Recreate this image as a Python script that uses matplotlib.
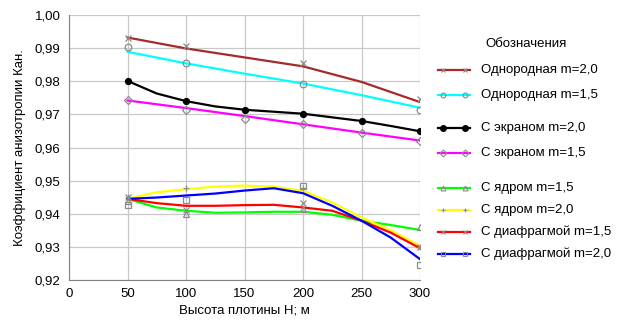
import numpy as np
import matplotlib.pyplot as plt
from matplotlib.lines import Line2D

plt.rcParams['font.family'] = ['Liberation Sans', 'DejaVu Sans']

# upper group, lines read at 50..300 step 50
h6 = [50, 100, 150, 200, 250, 300]
odn20 = [0.9932, 0.9899, 0.9872, 0.9845, 0.9798, 0.9737]
odn15 = [0.9889, 0.9854, 0.9823, 0.9793, 0.9758, 0.9720]
ekr15 = [0.9742, 0.9719, 0.9695, 0.9670, 0.9645, 0.9621]

# black curve and lower group read at step 25
h11 = [50, 75, 100, 125, 150, 175, 200, 225, 250, 275, 300]
ekr20 = [0.9801, 0.9763, 0.9740, 0.9724, 0.9714, 0.9708, 0.9702, 0.9691, 0.9680, 0.9665, 0.9649]
yad15 = [0.9445, 0.9419, 0.9409, 0.9403, 0.9404, 0.9406, 0.9406, 0.9397, 0.9379, 0.9366, 0.9351]
yad20 = [0.9445, 0.9465, 0.9474, 0.9482, 0.9485, 0.9482, 0.9469, 0.9434, 0.9389, 0.9350, 0.9303]
dia15 = [0.9445, 0.9432, 0.9424, 0.9424, 0.9426, 0.9427, 0.9419, 0.9409, 0.9379, 0.9343, 0.9296]
dia20 = [0.9445, 0.9449, 0.9455, 0.9461, 0.9470, 0.9477, 0.9462, 0.9424, 0.9379, 0.9328, 0.9263]

# measured points (grey markers)
hm = [50, 100, 200, 300]
odn20_pts = [0.9932, 0.9906, 0.9854, 0.9745]
odn15_pts = [0.9904, 0.9854, 0.9793, 0.9712]
ekr20_pts = [0.9801, 0.9740, 0.9714, 0.9702, 0.9680, 0.9649]
ekr15_pts = [0.9742, 0.9714, 0.9687, 0.9670, 0.9643, 0.9619]
yad15_pts = [0.9440, 0.9400, 0.9413, 0.9360]
yad20_pts = [0.9450, 0.9478, 0.9478, 0.9300]
dia15_pts = [0.9450, 0.9410, 0.9433, 0.9300]
dia20_pts = [0.9427, 0.9441, 0.9483, 0.9245]

series = [
    ('Однородная m=2,0', h6, odn20, hm, odn20_pts, '#A52A2A', 'x'),
    ('Однородная m=1,5', h6, odn15, hm, odn15_pts, '#00FFFF', 'o'),
    ('С экраном m=2,0', h11, ekr20, h6, ekr20_pts, 'black', 'o'),
    ('С экраном m=1,5', h6, ekr15, h6, ekr15_pts, '#FF00FF', 'D'),
    ('С ядром m=1,5', h11, yad15, hm, yad15_pts, '#00FF00', '^'),
    ('С ядром m=2,0', h11, yad20, hm, yad20_pts, '#FFFF00', '+'),
    ('С диафрагмой m=1,5', h11, dia15, hm, dia15_pts, '#FF0000', 'x'),
    ('С диафрагмой m=2,0', h11, dia20, hm, dia20_pts, '#0000FF', 's'),
]

fig = plt.figure(figsize=(6.24, 3.22), dpi=100)
ax = fig.add_axes([69/624, 1-280/322, (420-69)/624, (280-15)/322])

for name, x, y, xm, ym, c, m in series:
    ax.plot(x, y, color=c, lw=1.6, zorder=3)
    if c == 'black':
        ax.plot(xm, ym, 'o', color='black', ms=4.2, zorder=4)
    else:
        ms = 3.8 if m == 'D' else 4.8
        ax.plot(xm, ym, m, color='#8C8C8C', mfc='none', ms=ms, mew=0.9, zorder=4)

ax.set_xlim(0, 300)
ax.set_ylim(0.92, 1.00)
ax.set_xticks(np.arange(0, 301, 50))
ax.set_yticks(np.arange(0.92, 1.001, 0.01))
ax.set_yticklabels([f'{v:.2f}'.replace('.', ',') for v in np.arange(0.92, 1.001, 0.01)])
ax.grid(color='#C8C8C8', lw=0.9)
ax.set_axisbelow(True)
for s in ['top', 'right']:
    ax.spines[s].set_visible(False)
for s in ['left', 'bottom']:
    ax.spines[s].set_color('#808080')
ax.tick_params(length=0, labelsize=9.5, pad=6)
ax.set_xlabel('Высота плотины H; м', fontsize=9.5, labelpad=3)
ax.set_ylabel('Коэффициент анизотропии Кан.', fontsize=9.5, labelpad=6)

# legend drawn by hand
fig.text(526/624, 1-44/322, 'Обозначения', fontsize=9.5, ha='center', va='center')
ys = [70, 95, 128, 153, 188, 210, 232, 254]
for (name, x, y, xm, ym, c, m), yy in zip(series, ys):
    fy = 1 - yy/322
    fig.add_artist(Line2D([438/624, 470/624], [fy, fy], color=c, lw=1.6,
                          transform=fig.transFigure))
    if c == 'black':
        fig.add_artist(Line2D([443/624, 465/624], [fy, fy], ls='none', marker='o',
                              color='black', ms=4, transform=fig.transFigure))
    else:
        fig.add_artist(Line2D([443/624, 465/624], [fy, fy], ls='none', marker=m,
                              color='#8C8C8C', mfc='none', ms=3.5, mew=0.8,
                              transform=fig.transFigure))
    fig.text(481/624, fy, name, fontsize=9.5, ha='left', va='center')

fig.savefig('out.png', dpi=100)
